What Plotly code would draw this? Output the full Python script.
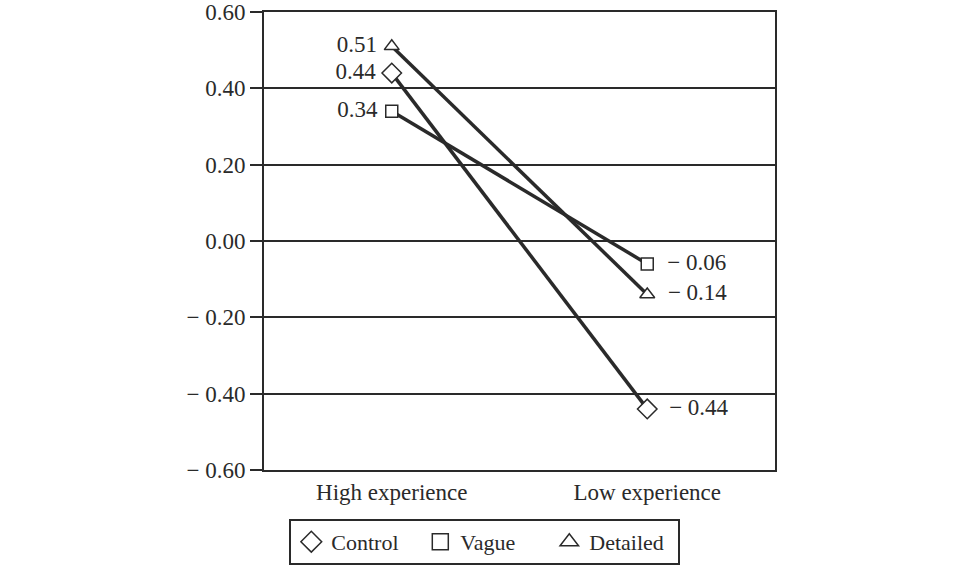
import plotly.graph_objects as go

categories = ["High experience", "Low experience"]
series_names = ["Control", "Vague", "Detailed"]
control = [0.44, -0.44]
vague = [0.34, -0.06]
detailed = [0.51, -0.14]
y_ticks = [0.6, 0.4, 0.2, 0.0, -0.2, -0.4, -0.6]

def fmt(v, nd=2):
    s = f"{abs(v):.{nd}f}"
    return ("\u2212 " + s) if v < 0 else s

FONT = "Liberation Serif, Times New Roman, serif"
INK = "#2a2a2a"
symbols = {"Control": ("diamond", 15), "Vague": ("square", 12), "Detailed": ("triangle-up", 13)}
data = {"Control": control, "Vague": vague, "Detailed": detailed}

fig = go.Figure()
for name in series_names:
    sym, sz = symbols[name]
    vals = data[name]
    texts = [fmt(v) + " " if i == 0 else "  " + fmt(v) for i, v in enumerate(vals)]
    fig.add_trace(go.Scatter(
        x=categories, y=vals, mode="lines+markers+text",
        text=texts, textposition=["middle left", "middle right"],
        textfont=dict(family=FONT, size=23, color=INK),
        line=dict(color=INK, width=3.5),
        marker=dict(symbol=sym, size=sz, color="white", line=dict(color=INK, width=1.5)),
        showlegend=False, cliponaxis=False,
    ))
for name in series_names:
    sym, sz = symbols[name]
    fig.add_trace(go.Scatter(
        x=[None], y=[None], mode="markers", name=name,
        marker=dict(symbol=sym, size=sz + 6, color="white", line=dict(color=INK, width=1.5)),
    ))

fig.update_layout(
    width=960, height=566,
    margin=dict(l=264, r=185, t=12, b=96, autoexpand=False),
    paper_bgcolor="white", plot_bgcolor="white",
    font=dict(family=FONT, size=23, color=INK),
    xaxis=dict(type="category", range=[-0.5, 1.5], showgrid=False, automargin=False,
               showline=True, linecolor=INK, linewidth=2, mirror=True,
               ticks="", tickfont=dict(size=23)),
    yaxis=dict(range=[-0.6, 0.6], tickvals=y_ticks, ticktext=[fmt(v) for v in y_ticks],
               automargin=False,
               showgrid=True, gridcolor=INK, gridwidth=1.5, zeroline=False,
               showline=True, linecolor=INK, linewidth=2, mirror=True,
               ticks="outside", ticklen=12, tickwidth=1.5, tickcolor=INK,
               tickfont=dict(size=23)),
    legend=dict(orientation="h", xref="container", yref="container",
                x=0.505, xanchor="center", y=0.002, yanchor="bottom",
                bordercolor=INK, borderwidth=2, bgcolor="white",
                font=dict(size=22), itemsizing="trace", tracegroupgap=0, entrywidth=84),
)
fig.write_html("out.html", config={"displayModeBar": False},
               post_script="document.body.style.margin='0';document.body.style.padding='0';document.body.style.overflow='hidden';")
